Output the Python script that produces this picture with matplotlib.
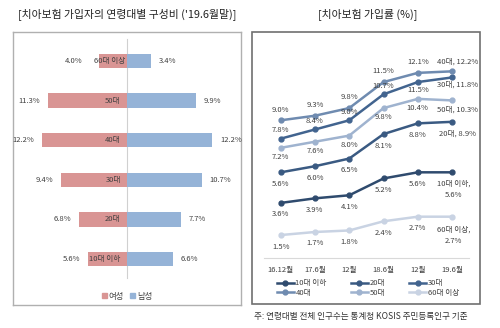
import matplotlib.pyplot as plt
from matplotlib.patches import Rectangle
from matplotlib.lines import Line2D

plt.rcParams['font.family'] = ['Noto Sans CJK KR', 'DejaVu Sans']

# left chart: composition by age group
age_groups = ['10대 이하', '20대', '30대', '40대', '50대', '60대 이상']
female = [5.6, 6.8, 9.4, 12.2, 11.3, 4.0]
male = [6.6, 7.7, 10.7, 12.2, 9.9, 3.4]

# right chart: subscription rate
periods = ['16.12월', '17.6월', '12월', '18.6월', '12월', '19.6월']
rate_10s = [3.6, 3.9, 4.1, 5.2, 5.6, 5.6]
rate_20s = [5.6, 6.0, 6.5, 8.1, 8.8, 8.9]
rate_30s = [7.8, 8.4, 9.0, 10.7, 11.5, 11.8]
rate_40s = [9.0, 9.3, 9.8, 11.5, 12.1, 12.2]
rate_50s = [7.2, 7.6, 8.0, 9.8, 10.4, 10.3]
rate_60s = [1.5, 1.7, 1.8, 2.4, 2.7, 2.7]

W, H = 500, 328
fig = plt.figure(figsize=(W / 100, H / 100), dpi=100)


def fbox(x0, y0, x1, y1):
    return [x0 / W, 1 - y1 / H, (x1 - x0) / W, (y1 - y0) / H]


txt = '#404040'
pink = '#d99594'
blue = '#95b3d7'

# ---------- left ----------
fig.text(127 / W, 1 - 15 / H, "[치아보험 가입자의 연령대별 구성비 ('19.6월말)]",
         ha='center', va='center', fontsize=7.8, color='#222222')
axl = fig.add_axes(fbox(13, 32, 241, 305))
for s in axl.spines.values():
    s.set_color('#b0b0b0')
    s.set_linewidth(1)
axl.set_xticks([])
axl.set_yticks([])
axl.set_xlim(-16.3, 16.3)
axl.set_ylim(-1.16, 5.73)

ys = list(range(len(age_groups)))
axl.barh(ys, [-v for v in female], height=0.36, color=pink)
axl.barh(ys, male, height=0.36, color=blue)
axl.plot([0, 0], [-0.48, 5.55], color='#d0d0d0', lw=0.8, zorder=0)
for y, f, m, g in zip(ys, female, male, age_groups):
    fx = -f - 1.1
    gx = -0.9
    if g == '60대 이상':
        fx = -6.4
        gx = -0.2
    axl.text(fx, y, f'{f:.1f}%', ha='right', va='center', fontsize=5.5, color=txt)
    axl.text(m + 1.1, y, f'{m:.1f}%', ha='left', va='center', fontsize=5.5, color=txt)
    axl.text(gx, y, g, ha='right', va='center', fontsize=5.5, color=txt)

axl.legend(handles=[Rectangle((0, 0), 1, 1, color=pink), Rectangle((0, 0), 1, 1, color=blue)],
           labels=['여성', '남성'], loc='center', bbox_to_anchor=(0.5, (305 - 296) / 273),
           ncol=2, frameon=False, fontsize=6, handlelength=0.6, handleheight=0.6,
           handletextpad=0.2, columnspacing=0.8, labelcolor=txt)

# ---------- right ----------
fig.text(368 / W, 1 - 15 / H, '[치아보험 가입률 (%)]', ha='center', va='center',
         fontsize=7.8, color='#222222')
fig.patches.append(Rectangle((252 / W, 1 - 304 / H), 228 / W, 272 / H,
                             transform=fig.transFigure, fill=False,
                             edgecolor='#707070', lw=1.2))

axr = fig.add_axes(fbox(263.6, 258 - 14 * 15.3, 469.2, 258))
axr.set_xlim(-0.5, 5.5)
axr.set_ylim(0, 14)
axr.patch.set_alpha(0)
for k in ['top', 'left', 'right']:
    axr.spines[k].set_visible(False)
axr.spines['bottom'].set_color('#d9d9d9')
axr.set_yticks([])
x = list(range(len(periods)))
axr.set_xticks(x)
axr.set_xticklabels(periods, fontsize=5.5, color=txt)
axr.tick_params(axis='x', length=0, pad=6)

series = [
    ('10대 이하', rate_10s, '#2f4b6e'),
    ('20대', rate_20s, '#3a5a82'),
    ('30대', rate_30s, '#42648f'),
    ('40대', rate_40s, '#6f8bb0'),
    ('50대', rate_50s, '#9fb3cf'),
    ('60대 이상', rate_60s, '#c9d3e3'),
]
for name, vals, c in series:
    axr.plot(x, vals, color=c, lw=1.8, marker='o', ms=3.5)

# label offsets in value units (negative = below)
offs = {
    '10대 이하': [-0.75] * 5,
    '20대': [-0.75] * 5,
    '30대': [0.55, 0.55, 0.55, 0.55, -0.5],
    '40대': [0.7] * 5,
    '50대': [-0.6] * 5,
    '60대 이상': [-0.75] * 5,
}
for name, vals, c in series:
    for i in range(5):
        axr.text(x[i], vals[i] + offs[name][i], f'{vals[i]:.1f}%', ha='center',
                 va='center', fontsize=5.5, color=txt)

axr.text(5.15, rate_40s[5] + 0.65, f'40대, {rate_40s[5]:.1f}%', ha='center', va='center', fontsize=5.5, color=txt)
axr.text(5.15, rate_30s[5] - 0.45, f'30대, {rate_30s[5]:.1f}%', ha='center', va='center', fontsize=5.5, color=txt)
axr.text(5.15, rate_50s[5] - 0.6, f'50대, {rate_50s[5]:.1f}%', ha='center', va='center', fontsize=5.5, color=txt)
axr.text(5.15, rate_20s[5] - 0.75, f'20대, {rate_20s[5]:.1f}%', ha='center', va='center', fontsize=5.5, color=txt)
axr.text(5.05, rate_10s[5] - 1.1, f'10대 이하,\n{rate_10s[5]:.1f}%', ha='center', va='center',
         fontsize=5.5, color=txt, linespacing=1.5)
axr.text(5.05, rate_60s[5] - 1.2, f'60대 이상,\n{rate_60s[5]:.1f}%', ha='center', va='center',
         fontsize=5.5, color=txt, linespacing=1.5)

# legend: fill order is column-wise, so reorder to read row-wise
order = [0, 3, 1, 4, 2, 5]
handles = [Line2D([0], [0], color=series[i][2], lw=1.8, marker='o', ms=3.5) for i in order]
labels = [series[i][0] for i in order]
fig.legend(handles=handles, labels=labels, loc='center',
           bbox_to_anchor=(368 / W, 1 - 288 / H), ncol=3, frameon=False,
           fontsize=5.5, handlelength=2.2, handletextpad=0.2, columnspacing=3.2,
           labelspacing=0.2, labelcolor=txt)

fig.text(254 / W, 1 - 317 / H, '주: 연령대별 전체 인구수는 통계청 KOSIS 주민등록인구 기준',
         ha='left', va='center', fontsize=6.2, color='#333333')

fig.savefig('out.png', dpi=100)
